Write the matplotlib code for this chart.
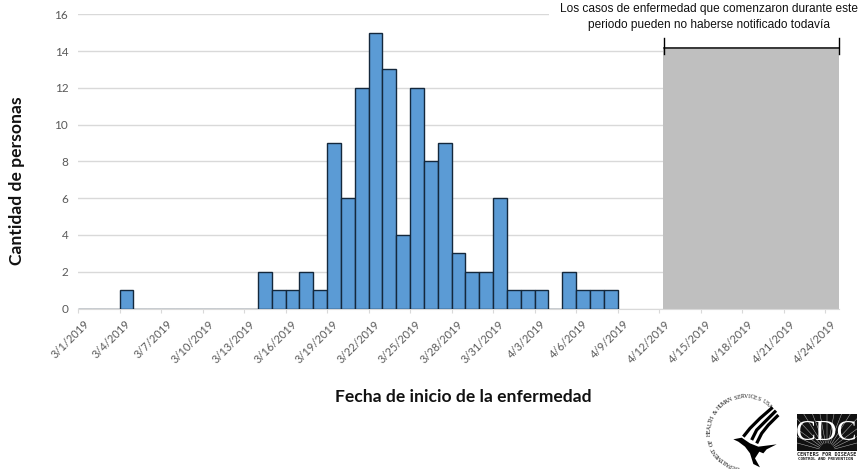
import numpy as np
import pandas as pd
import matplotlib
matplotlib.use("Agg")
import matplotlib.pyplot as plt
from matplotlib.patches import Polygon, Rectangle
from matplotlib.transforms import ScaledTranslation

# casos por fecha de inicio
onset_days = pd.date_range("2019-03-01", "2019-04-08")
case_counts = [0, 0, 0, 1, 0, 0, 0, 0, 0, 0, 0, 0, 0,
               2, 1, 1, 2, 1, 9, 6, 12, 15, 13, 4, 12, 8, 9, 3, 2, 2, 6,
               1, 1, 1, 0, 2, 1, 1, 1]

tick_dates = pd.date_range("2019-03-01", "2019-04-24", freq="3D")
tick_labels = [f"{d.month}/{d.day}/{d.year}" for d in tick_dates]
y_ticks = [0, 2, 4, 6, 8, 10, 12, 14, 16]

W, H = 861, 469
GRID = "#d9d9d9"
TXT = "#595959"

fig = plt.figure(figsize=(W / 100, H / 100), dpi=100)
ax = fig.add_axes([78 / W, 1 - 308.5 / H, (839 - 78) / W, (308.5 - 14.3) / H])

ax.bar(onset_days, case_counts, width=1, align="edge", color="#5b9bd5",
       edgecolor="#14283c", linewidth=1, zorder=3)

# periodo sin notificar
ax.axvspan(pd.Timestamp("2019-04-12 07:00"), pd.Timestamp("2019-04-25"),
           ymin=0, ymax=14.1 / 16, color="#bfbfbf", lw=0, zorder=2)

ax.set_xlim(pd.Timestamp("2019-03-01"), pd.Timestamp("2019-04-25"))
ax.set_ylim(0, 16)
ax.set_yticks(y_ticks)
ax.set_xticks(tick_dates)
ax.set_xticklabels(tick_labels, rotation=45, ha="right", rotation_mode="anchor",
                   family="Lato", fontsize=8, color=TXT)
ax.tick_params(axis="x", length=3, color=GRID, pad=4)
ax.tick_params(axis="y", length=0, pad=7, labelcolor=TXT)
shift = ScaledTranslation(5.5 / 100, 0, fig.dpi_scale_trans)
for lab in ax.get_xticklabels():
    lab.set_transform(lab.get_transform() + shift)
for lab in ax.get_yticklabels():
    lab.set_family("Lato")
    lab.set_fontsize(8.5)
ax.grid(axis="y", color=GRID, lw=1)
ax.set_axisbelow(True)
for s in ["top", "right", "left"]:
    ax.spines[s].set_visible(False)
ax.spines["bottom"].set_color(GRID)

# capa en pixeles para anotacion y logos
ov = fig.add_axes([0, 0, 1, 1], zorder=5)
ov.set_xlim(0, W)
ov.set_ylim(H, 0)
ov.axis("off")

ov.add_patch(Rectangle((549, 5), 312, 25, fc="white", ec="none"))
ov.text(709, 9, "Los casos de enfermedad que comenzaron durante este", family="Liberation Sans",
        fontsize=8.55, ha="center", va="center", color="#111111")
ov.text(709, 25, "periodo pueden no haberse notificado todavía", family="Liberation Sans",
        fontsize=8.55, ha="center", va="center", color="#111111")
ov.plot([663.5, 839], [48.5, 48.5], color="black", lw=1.1)
ov.plot([663.5, 663.5], [38, 54], color="black", lw=1)
ov.plot([839, 839], [38, 54], color="black", lw=1)

ov.text(17, 181, "Cantidad de personas", family="Lato", weight="bold", fontsize=12.6,
        rotation=90, ha="center", va="center", color="#111111")
ov.text(463, 396.5, "Fecha de inicio de la enfermedad", family="Lato", weight="bold",
        fontsize=12.6, ha="center", va="center", color="#111111")


def logo_xy(pts):
    return [(700 + x / 3, 390 + y / 3) for x, y in pts]


# logo HHS: texto en circulo y aguila simplificada
ring_text = "DEPARTMENT OF HEALTH & HUMAN SERVICES USA"
cx, cy, r = 745, 432, 35.5
angles = np.linspace(193, 403, len(ring_text))
for ch, a in zip(ring_text, angles):
    t = np.deg2rad(a)
    ov.text(cx + r * np.sin(t), cy - r * np.cos(t), ch, family="Liberation Serif", fontsize=4.2,
            rotation=-a, ha="center", va="center", color="#111111")

stripes = [
    [(218, 52), (180, 85), (150, 115), (130, 140)],
    [(228, 62), (195, 95), (170, 120), (155, 150)],
    [(235, 75), (205, 105), (185, 130), (170, 160)],
]
for st in stripes:
    xs, ys = zip(*logo_xy(st))
    ov.plot(xs, ys, color="black", lw=2.3, solid_capstyle="butt")
ov.add_patch(Polygon(logo_xy([(100, 148), (125, 143), (150, 160), (175, 170), (230, 163), (200, 178),
                              (190, 190), (178, 185), (165, 205), (180, 232), (160, 222), (150, 190),
                              (135, 170), (115, 155)]), fc="black", ec="none"))

# logo CDC
box = Rectangle((797, 414), 60, 37, fc="#111111", ec="none")
ov.add_patch(box)
for a in np.linspace(-75, 75, 15):
    t = np.deg2rad(a)
    ln, = ov.plot([827 + 8 * np.sin(t), 827 + 70 * np.sin(t)], [451 - 8 * np.cos(t), 451 - 70 * np.cos(t)],
                  color="#bbbbbb", lw=0.35)
    ln.set_clip_path(box)
ov.text(827, 432.5, "CDC", family="Liberation Serif", fontsize=21.5, color="white", ha="center", va="center")
ov.text(827, 454, "CENTERS FOR DISEASE", family="DejaVu Sans Mono", weight="bold", fontsize=3.7,
        ha="center", va="center", color="#222222")
ov.text(825, 458.7, "CONTROL AND PREVENTION", family="DejaVu Sans Mono", weight="bold", fontsize=3.1,
        ha="center", va="center", color="#222222")

fig.savefig("out.png", dpi=100)
